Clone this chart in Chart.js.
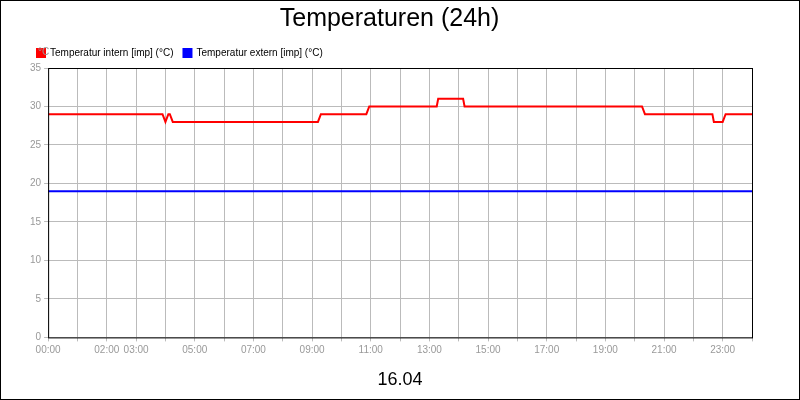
<!DOCTYPE html>
<html><head><meta charset="utf-8">
<script src="https://cdn.jsdelivr.net/npm/chart.js@4"></script>
<style>html,body{margin:0;background:#fff}#w{width:798px;height:398px;border:1px solid #000}</style>
</head><body><div id="w"><canvas id="c"></canvas></div>
<script>
const internX = [0,3.9,4.0,4.1,4.15,4.25,9.2,9.3,10.85,10.95,13.25,13.3,14.15,14.2,20.25,20.35,22.65,22.7,23.0,23.1,24];
const internY = [29,29,28,29,29,28,28,29,29,30,30,31,31,30,30,29,29,28,28,29,29];
const externX = [0,24];
const externY = [19,19];
const tickLabels = {0:'00:00',2:'02:00',3:'03:00',5:'05:00',7:'07:00',9:'09:00',11:'11:00',13:'13:00',15:'15:00',17:'17:00',19:'19:00',21:'21:00',23:'23:00'};
const toPts=(xs,ys)=>xs.map((x,i)=>({x,y:ys[i]}));
const extra={id:'extra',afterDraw(ch){const {ctx,chartArea:a}=ch;ctx.save();ctx.strokeStyle='#000';ctx.lineWidth=1;ctx.strokeRect(a.left+0.5,a.top+0.5,a.width,a.height);
ctx.fillStyle='#999';ctx.font='10px "Liberation Sans"';ctx.textAlign='left';ctx.fillText('°C',37,51);ctx.restore();}};
new Chart(document.getElementById('c'),{type:'line',
data:{datasets:[
{label:'Temperatur intern [imp] (°C)',data:toPts(internX,internY),borderColor:'#ff0000',backgroundColor:'#ff0000',borderWidth:2,pointRadius:0,tension:0},
{label:'Temperatur extern [imp] (°C)',data:toPts(externX,externY),borderColor:'#0000ff',backgroundColor:'#0000ff',borderWidth:2,pointRadius:0}]},
options:{responsive:true,maintainAspectRatio:false,animation:false,
layout:{padding:{left:26,right:47,top:0,bottom:0}},
plugins:{title:{display:true,text:'Temperaturen (24h)',color:'#000',font:{family:'Liberation Sans',size:25,weight:'normal'},padding:{top:3,bottom:4}},
legend:{align:'start',labels:{boxWidth:8,boxHeight:8,color:'#000',font:{family:'Liberation Sans',size:10},padding:10}},tooltip:{enabled:false}},
scales:{x:{type:'linear',min:0,max:24,grid:{color:'#bbb',drawTicks:true,tickLength:4},border:{display:false},
ticks:{stepSize:1,autoSkip:false,maxRotation:0,color:'#999',font:{family:'Liberation Sans',size:10},callback:v=>tickLabels[v]||''},
title:{display:true,text:'16.04',color:'#000',font:{family:'Liberation Sans',size:18},padding:{top:10,bottom:8}}},
y:{min:0,max:35,grid:{color:'#bbb',tickLength:4},border:{display:false},ticks:{stepSize:5,color:'#999',font:{family:'Liberation Sans',size:10}}}}},
plugins:[extra]});
</script></body></html>
